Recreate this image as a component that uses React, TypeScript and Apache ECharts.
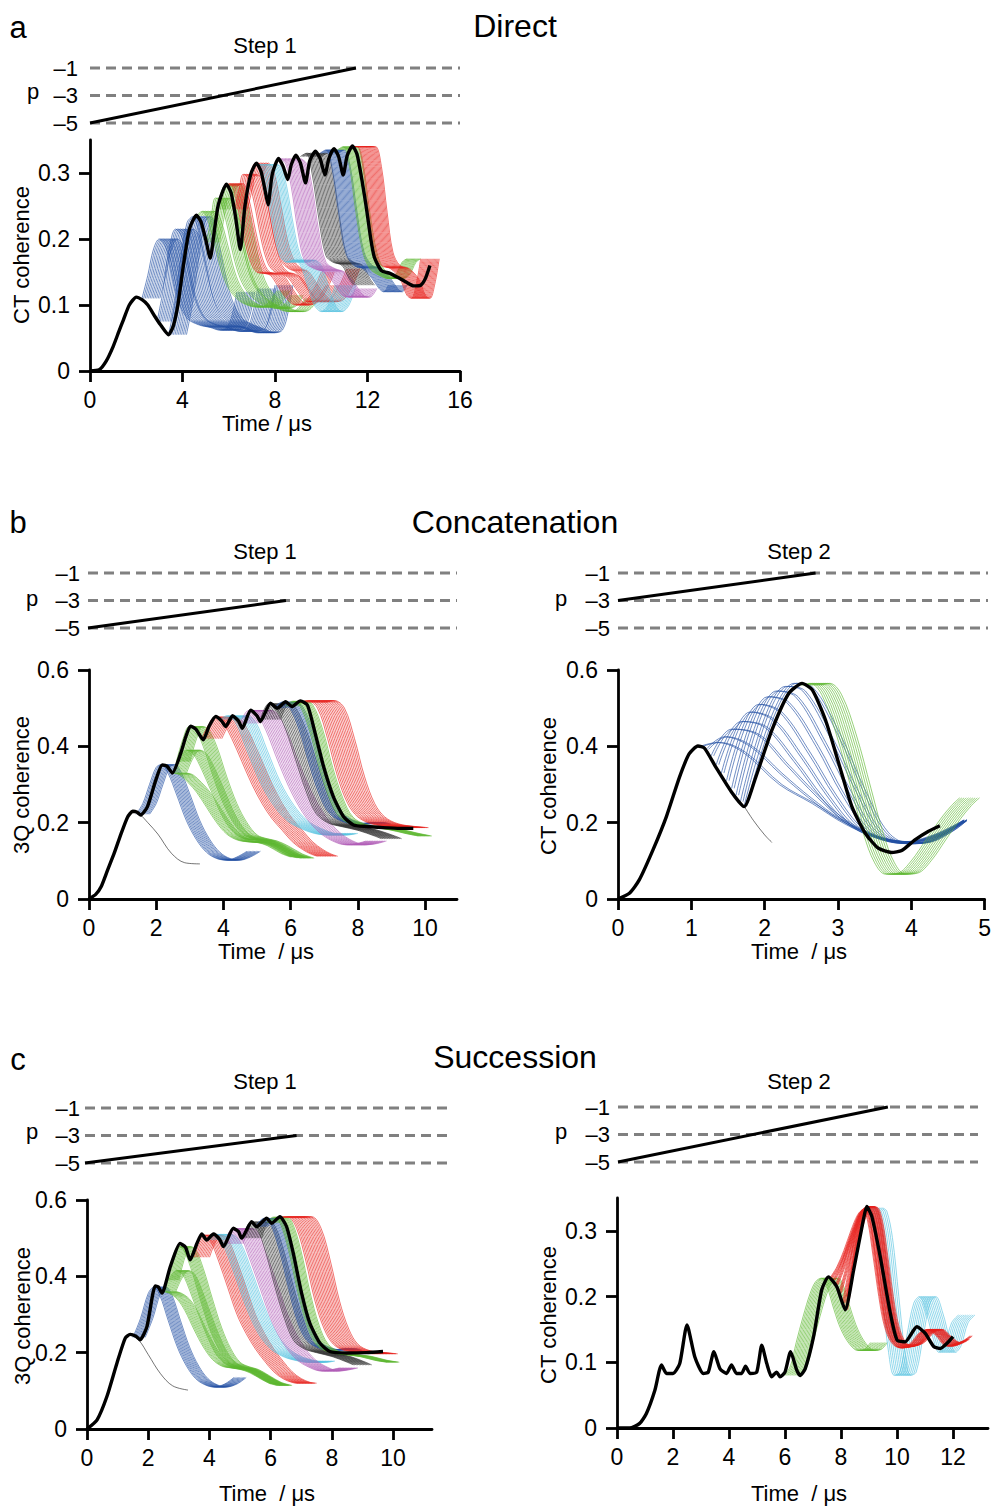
import { useEffect, useRef } from "react";
import * as echarts from "echarts";

type Pt = [number, number];
type Fan = { color: string; bases: Pt[][]; shifts: number[] };

const FONT = '"Liberation Sans", Arial, Helvetica, sans-serif';
const BLUE = "#2451a4";
const GREEN = "#5fb832";
const RED = "#e8231f";
const CYAN = "#56c2e0";
const MAGENTA = "#b25fb8";
const DARK = "#2a2a2a";

// coherence levels of the step panels
const P_LEVELS = [-1, -3, -5];

// tick values
const X_TICKS_A = [0, 4, 8, 12, 16];
const X_TICKS_10 = [0, 2, 4, 6, 8, 10];
const X_TICKS_5 = [0, 1, 2, 3, 4, 5];
const X_TICKS_12 = [0, 2, 4, 6, 8, 10, 12];
const Y_TICKS_CT = [0, 0.1, 0.2, 0.3];
const Y_TICKS_3Q = [0, 0.2, 0.4, 0.6];

// time offsets of the curves inside one fan (read from the hatch widths)
const SH_ONE = [0];
const SH_PAIR = [0, 0.035];
const SH_QUAD = [0, 0.03, 0.06, 0.09];
const SH_03 = [0, 0.03, 0.06, 0.09, 0.12, 0.15, 0.18, 0.21, 0.24, 0.27];
const SH_C10 = [0, 0.065, 0.13, 0.195, 0.26, 0.325, 0.39, 0.455, 0.52, 0.585];
const SH_A8 = [0, 0.07, 0.14, 0.21, 0.28, 0.35, 0.42, 0.49, 0.56];
const SH_A12 = [0, 0.07, 0.14, 0.21, 0.28, 0.35, 0.42, 0.49, 0.56, 0.63, 0.7, 0.77];
const SH_04 = [0, 0.04, 0.08, 0.12, 0.16, 0.2, 0.24, 0.28, 0.32, 0.36, 0.4];
const SH_06 = [0, 0.05, 0.1, 0.15, 0.2, 0.25, 0.3, 0.35, 0.4, 0.45, 0.5, 0.55, 0.6];
const SH_08 = [0, 0.05, 0.1, 0.15, 0.2, 0.25, 0.3, 0.35, 0.4, 0.45, 0.5, 0.55, 0.6, 0.65, 0.7, 0.75, 0.8];
const SH_09 = [0, 0.06, 0.12, 0.18, 0.24, 0.3, 0.36, 0.42, 0.48, 0.54, 0.6, 0.66, 0.72, 0.78, 0.84, 0.9];

// ramps in the step panels [time, p]
const RAMP_A: Pt[] = [[0, -5], [11.5, -1]];
const RAMP_B1: Pt[] = [[0, -5], [5.9, -3]];
const RAMP_B2: Pt[] = [[0, -3], [2.67, -1]];
const RAMP_C1: Pt[] = [[0, -5], [6.9, -3]];
const RAMP_C2: Pt[] = [[0, -5], [9.64, -1]];

// ---------- panel a : Direct ----------
const A_BLACK: Pt[] = [[0, 0], [0.4, 0.002], [0.7, 0.015], [1.0, 0.037], [1.25, 0.06], [1.45, 0.078], [1.7, 0.1], [2.0, 0.112], [2.25, 0.108], [2.5, 0.1], [2.8, 0.083], [3.05, 0.07], [3.4, 0.055], [3.6, 0.068], [3.8, 0.1], [4.03, 0.158], [4.3, 0.215], [4.6, 0.236], [4.8, 0.226], [5.0, 0.2], [5.2, 0.171], [5.35, 0.205], [5.55, 0.252], [5.9, 0.283], [6.1, 0.27], [6.3, 0.232], [6.5, 0.184], [6.7, 0.25], [6.95, 0.298], [7.2, 0.315], [7.4, 0.302], [7.58, 0.272], [7.7, 0.252], [7.88, 0.298], [8.15, 0.322], [8.35, 0.31], [8.55, 0.29], [8.7, 0.312], [8.9, 0.327], [9.1, 0.315], [9.32, 0.285], [9.5, 0.318], [9.75, 0.333], [9.95, 0.322], [10.16, 0.297], [10.33, 0.322], [10.55, 0.337], [10.75, 0.325], [10.95, 0.297], [11.12, 0.326], [11.35, 0.341], [11.55, 0.328], [11.78, 0.285], [11.96, 0.245], [12.15, 0.198], [12.3, 0.172], [12.6, 0.152], [12.97, 0.148], [13.3, 0.142], [13.7, 0.134], [14.0, 0.129], [14.3, 0.13], [14.5, 0.14], [14.7, 0.16]];
const A_BLUE_EARLY: Pt[] = [[2.25, 0.11], [2.5, 0.145], [2.75, 0.185], [3.0, 0.2], [3.25, 0.19], [3.5, 0.155], [3.8, 0.11], [4.2, 0.08], [4.7, 0.07], [5.2, 0.066], [5.6, 0.062], [5.9, 0.065], [6.15, 0.085], [6.35, 0.12]];
const A_BLUE_MID: Pt[] = [[2.9, 0.075], [3.15, 0.12], [3.4, 0.18], [3.7, 0.215], [3.95, 0.205], [4.25, 0.16], [4.55, 0.11], [4.95, 0.08], [5.45, 0.07], [5.95, 0.066], [6.45, 0.06], [6.8, 0.065], [7.05, 0.09], [7.25, 0.125]];
const A_BLUE_LATE: Pt[] = [[3.4, 0.055], [3.65, 0.1], [3.95, 0.175], [4.2, 0.225], [4.45, 0.234], [4.7, 0.21], [5.0, 0.16], [5.35, 0.11], [5.8, 0.08], [6.3, 0.07], [6.8, 0.063], [7.2, 0.058], [7.55, 0.062], [7.8, 0.09], [8.0, 0.13]];
const A_GREEN_EARLY: Pt[] = [[4.6, 0.235], [4.85, 0.242], [5.1, 0.228], [5.4, 0.19], [5.7, 0.15], [6.0, 0.125], [6.4, 0.108], [6.8, 0.1], [7.2, 0.097], [7.6, 0.1], [7.9, 0.112], [8.1, 0.122]];
const A_GREEN_MID: Pt[] = [[5.05, 0.195], [5.25, 0.235], [5.42, 0.262], [5.62, 0.258], [5.9, 0.225], [6.2, 0.175], [6.5, 0.14], [6.85, 0.118], [7.25, 0.105], [7.65, 0.098], [8.05, 0.095], [8.4, 0.1], [8.65, 0.115]];
const A_GREEN_LATE: Pt[] = [[5.5, 0.245], [5.75, 0.278], [5.95, 0.283], [6.2, 0.262], [6.5, 0.21], [6.8, 0.16], [7.1, 0.13], [7.5, 0.112], [7.9, 0.1], [8.3, 0.092], [8.7, 0.09], [9.0, 0.095], [9.3, 0.11]];
const A_RED_EARLY: Pt[] = [[5.8, 0.28], [6.05, 0.284], [6.3, 0.262], [6.6, 0.212], [6.9, 0.17], [7.2, 0.15], [7.5, 0.148], [7.8, 0.145], [8.1, 0.13], [8.5, 0.11], [8.9, 0.1], [9.3, 0.105], [9.7, 0.125], [10.0, 0.15]];
const A_RED_MID: Pt[] = [[6.25, 0.245], [6.45, 0.275], [6.62, 0.298], [6.82, 0.293], [7.1, 0.255], [7.4, 0.2], [7.7, 0.163], [8.0, 0.15], [8.3, 0.147], [8.6, 0.14], [9.0, 0.12], [9.4, 0.105], [9.8, 0.108], [10.2, 0.13]];
const A_RED_LATE: Pt[] = [[6.9, 0.295], [7.15, 0.315], [7.4, 0.3], [7.7, 0.25], [8.0, 0.195], [8.3, 0.165], [8.6, 0.155], [8.9, 0.15], [9.2, 0.135], [9.6, 0.115], [10.0, 0.105], [10.4, 0.108], [10.8, 0.13], [11.1, 0.155]];
const A_CYAN: Pt[] = [[7.15, 0.313], [7.35, 0.31], [7.6, 0.28], [7.9, 0.22], [8.2, 0.175], [8.5, 0.165], [8.8, 0.168], [9.1, 0.16], [9.4, 0.13], [9.7, 0.1], [10.0, 0.09], [10.3, 0.1], [10.6, 0.13]];
const A_MAGENTA: Pt[] = [[8.2, 0.322], [8.45, 0.315], [8.7, 0.28], [9.0, 0.21], [9.3, 0.165], [9.7, 0.155], [10.1, 0.15], [10.5, 0.135], [10.9, 0.115], [11.2, 0.112], [11.5, 0.125]];
const A_DARK: Pt[] = [[9.1, 0.325], [9.35, 0.33], [9.6, 0.3], [9.9, 0.23], [10.2, 0.175], [10.5, 0.165], [10.9, 0.16], [11.2, 0.14], [11.4, 0.13]];
const A_BLUE2: Pt[] = [[9.95, 0.33], [10.2, 0.335], [10.45, 0.31], [10.75, 0.24], [11.05, 0.18], [11.4, 0.16], [11.8, 0.155], [12.2, 0.14], [12.5, 0.125], [12.7, 0.12], [12.9, 0.13]];
const A_GREEN2: Pt[] = [[10.7, 0.335], [10.95, 0.34], [11.2, 0.315], [11.5, 0.24], [11.8, 0.18], [12.1, 0.155], [12.5, 0.145], [12.9, 0.14], [13.2, 0.145], [13.5, 0.165], [13.7, 0.17]];
const A_RED2: Pt[] = [[11.3, 0.34], [11.55, 0.34], [11.8, 0.31], [12.05, 0.24], [12.3, 0.18], [12.6, 0.16], [13.0, 0.155], [13.4, 0.14], [13.7, 0.115], [13.9, 0.11], [14.1, 0.13], [14.3, 0.17]];

// ---------- panel b, step 1 : 3Q coherence ----------
const B1_BLACK: Pt[] = [[0, 0], [0.2, 0.012], [0.36, 0.032], [0.55, 0.075], [0.75, 0.12], [0.95, 0.17], [1.15, 0.215], [1.3, 0.23], [1.42, 0.228], [1.54, 0.22], [1.74, 0.242], [1.99, 0.312], [2.18, 0.351], [2.32, 0.348], [2.48, 0.33], [2.73, 0.382], [2.88, 0.425], [3.02, 0.453], [3.18, 0.445], [3.4, 0.417], [3.57, 0.452], [3.77, 0.478], [3.95, 0.466], [4.07, 0.452], [4.27, 0.48], [4.45, 0.466], [4.56, 0.447], [4.81, 0.495], [5.0, 0.48], [5.1, 0.465], [5.4, 0.513], [5.6, 0.5], [5.85, 0.517], [6.04, 0.504], [6.29, 0.519], [6.5, 0.508], [6.73, 0.434], [6.98, 0.347], [7.27, 0.268], [7.57, 0.216], [7.87, 0.194], [8.26, 0.19], [8.75, 0.187], [9.25, 0.185], [9.65, 0.185]];
const B1_THIN: Pt[] = [[1.25, 0.229], [1.5, 0.222], [1.75, 0.2], [2.05, 0.17], [2.45, 0.12], [2.85, 0.095], [3.3, 0.092]];
const B1_BLUE: Pt[] = [[1.4, 0.222], [1.6, 0.25], [1.8, 0.3], [2.0, 0.345], [2.15, 0.352], [2.35, 0.33], [2.6, 0.275], [2.9, 0.205], [3.2, 0.155], [3.5, 0.122], [3.8, 0.106], [4.1, 0.102], [4.4, 0.11], [4.7, 0.125]];
const B1_GREEN_EARLY: Pt[] = [[2.5, 0.33], [2.7, 0.325], [2.95, 0.305], [3.2, 0.28], [3.5, 0.24], [3.8, 0.2], [4.1, 0.17], [4.4, 0.155], [4.7, 0.15], [5.0, 0.148], [5.3, 0.14], [5.7, 0.12], [6.0, 0.11]];
const B1_GREEN_MID: Pt[] = [[2.5, 0.33], [2.7, 0.37], [2.9, 0.39], [3.1, 0.38], [3.35, 0.34], [3.65, 0.28], [3.95, 0.22], [4.25, 0.18], [4.55, 0.16], [4.85, 0.155], [5.15, 0.15], [5.5, 0.135], [5.9, 0.115], [6.2, 0.108]];
const B1_GREEN_LATE: Pt[] = [[2.6, 0.36], [2.8, 0.42], [2.98, 0.452], [3.15, 0.445], [3.4, 0.4], [3.7, 0.32], [4.0, 0.25], [4.3, 0.2], [4.6, 0.168], [4.9, 0.158], [5.2, 0.152], [5.55, 0.138], [5.95, 0.118], [6.3, 0.107]];
const B1_RED: Pt[] = [[3.35, 0.42], [3.55, 0.455], [3.75, 0.477], [3.95, 0.468], [4.25, 0.42], [4.55, 0.36], [4.85, 0.3], [5.15, 0.25], [5.45, 0.21], [5.75, 0.18], [6.05, 0.15], [6.35, 0.13], [6.6, 0.118], [6.8, 0.112]];
const B1_CYAN: Pt[] = [[3.9, 0.47], [4.1, 0.48], [4.35, 0.465], [4.7, 0.39], [5.1, 0.305], [5.5, 0.245], [5.9, 0.205], [6.3, 0.185], [6.7, 0.172], [7.1, 0.168], [7.4, 0.172]];
const B1_MAGENTA: Pt[] = [[4.5, 0.46], [4.75, 0.494], [4.95, 0.49], [5.25, 0.445], [5.65, 0.355], [6.05, 0.275], [6.45, 0.215], [6.85, 0.175], [7.25, 0.152], [7.65, 0.142], [7.95, 0.145], [8.25, 0.152]];
const B1_DARK: Pt[] = [[5.1, 0.47], [5.35, 0.512], [5.55, 0.5], [5.85, 0.445], [6.15, 0.365], [6.45, 0.285], [6.75, 0.225], [7.1, 0.2], [7.5, 0.19], [8.0, 0.18], [8.5, 0.165], [8.7, 0.158]];
const B1_BLUE2: Pt[] = [[5.5, 0.5], [5.75, 0.516], [5.95, 0.505], [6.25, 0.445], [6.55, 0.355], [6.85, 0.275], [7.15, 0.225], [7.55, 0.203], [8.0, 0.197], [8.4, 0.2], [8.6, 0.195]];
const B1_GREEN2: Pt[] = [[5.85, 0.505], [6.05, 0.518], [6.25, 0.51], [6.55, 0.445], [6.85, 0.345], [7.15, 0.265], [7.45, 0.215], [7.85, 0.195], [8.4, 0.188], [8.9, 0.182], [9.4, 0.172], [9.8, 0.165]];
const B1_RED2: Pt[] = [[6.25, 0.515], [6.5, 0.52], [6.8, 0.5], [7.1, 0.42], [7.4, 0.32], [7.7, 0.25], [8.0, 0.215], [8.4, 0.197], [8.9, 0.19], [9.3, 0.187]];

// ---------- panel b, step 2 : CT coherence ----------
const B2_BLACK: Pt[] = [[0, 0], [0.16, 0.016], [0.29, 0.05], [0.48, 0.13], [0.66, 0.216], [0.84, 0.32], [0.97, 0.38], [1.09, 0.401], [1.18, 0.395], [1.33, 0.347], [1.56, 0.277], [1.72, 0.242], [1.88, 0.32], [2.1, 0.443], [2.33, 0.539], [2.51, 0.565], [2.65, 0.548], [2.83, 0.469], [3.01, 0.356], [3.19, 0.242], [3.37, 0.173], [3.55, 0.133], [3.73, 0.122], [3.87, 0.127], [4.05, 0.155], [4.23, 0.177], [4.39, 0.192]];
const B2_THIN: Pt[] = [[1.72, 0.243], [1.85, 0.205], [2.0, 0.168], [2.1, 0.148]];
const B2_BLUE_CURVES: Pt[][] = [
  [[1.12, 0.4], [1.35, 0.41], [1.7, 0.385], [2.2, 0.3], [2.65, 0.25], [3.1, 0.196], [3.55, 0.16], [4.0, 0.15], [4.4, 0.17], [4.72, 0.205]],
  [[1.2, 0.392], [1.45, 0.425], [1.8, 0.4], [2.2, 0.33], [2.6, 0.265], [3.0, 0.21], [3.5, 0.165], [3.95, 0.15], [4.35, 0.17], [4.72, 0.205]],
  [[1.27, 0.375], [1.55, 0.445], [1.9, 0.43], [2.3, 0.35], [2.7, 0.27], [3.05, 0.21], [3.5, 0.165], [3.9, 0.15], [4.3, 0.168], [4.7, 0.205]],
  [[1.34, 0.352], [1.68, 0.465], [2.0, 0.45], [2.4, 0.36], [2.75, 0.27], [3.1, 0.2], [3.5, 0.162], [3.9, 0.148], [4.3, 0.165], [4.7, 0.205]],
  [[1.41, 0.33], [1.8, 0.49], [2.1, 0.47], [2.5, 0.37], [2.85, 0.27], [3.2, 0.19], [3.55, 0.158], [3.95, 0.147], [4.35, 0.165], [4.72, 0.207]],
  [[1.48, 0.31], [1.92, 0.51], [2.2, 0.49], [2.6, 0.38], [2.95, 0.27], [3.3, 0.185], [3.65, 0.152], [4.0, 0.145], [4.4, 0.168], [4.72, 0.207]],
  [[1.55, 0.29], [2.04, 0.53], [2.3, 0.515], [2.7, 0.4], [3.05, 0.275], [3.4, 0.18], [3.7, 0.15], [4.05, 0.145], [4.4, 0.168], [4.72, 0.207]],
  [[1.61, 0.272], [2.16, 0.545], [2.42, 0.53], [2.8, 0.41], [3.15, 0.28], [3.45, 0.185], [3.75, 0.15], [4.1, 0.146], [4.45, 0.17], [4.72, 0.207]],
  [[1.67, 0.255], [2.28, 0.557], [2.52, 0.545], [2.9, 0.42], [3.25, 0.28], [3.55, 0.18], [3.85, 0.148], [4.15, 0.148], [4.5, 0.175], [4.72, 0.205]],
  [[1.72, 0.243], [2.4, 0.565], [2.62, 0.555], [3.0, 0.43], [3.35, 0.28], [3.65, 0.175], [3.95, 0.145], [4.25, 0.15], [4.55, 0.18], [4.72, 0.205]],
];
const B2_GREEN: Pt[] = [[2.5, 0.56], [2.62, 0.565], [2.78, 0.535], [2.98, 0.43], [3.18, 0.29], [3.35, 0.17], [3.5, 0.095], [3.65, 0.065], [3.82, 0.068], [4.0, 0.1], [4.2, 0.155], [4.4, 0.21], [4.55, 0.245], [4.66, 0.265]];

// ---------- panel c, step 1 : 3Q coherence ----------
const C1_BLACK: Pt[] = [[0, 0], [0.33, 0.024], [0.65, 0.085], [0.98, 0.173], [1.25, 0.238], [1.41, 0.248], [1.6, 0.243], [1.74, 0.234], [1.96, 0.269], [2.23, 0.375], [2.33, 0.372], [2.45, 0.356], [2.72, 0.425], [3.04, 0.486], [3.22, 0.476], [3.37, 0.443], [3.59, 0.486], [3.75, 0.511], [3.91, 0.495], [4.13, 0.511], [4.33, 0.497], [4.46, 0.478], [4.78, 0.526], [4.95, 0.517], [5.05, 0.5], [5.38, 0.543], [5.54, 0.53], [5.87, 0.552], [6.03, 0.539], [6.3, 0.556], [6.52, 0.53], [6.74, 0.46], [7.01, 0.356], [7.28, 0.277], [7.61, 0.225], [7.93, 0.203], [8.48, 0.199], [9.13, 0.2], [9.67, 0.203]];
const C1_THIN: Pt[] = [[1.41, 0.248], [1.7, 0.232], [2.0, 0.195], [2.4, 0.145], [2.8, 0.113], [3.3, 0.102]];
const C1_BLUE: Pt[] = [[1.5, 0.24], [1.75, 0.29], [2.0, 0.355], [2.18, 0.372], [2.38, 0.35], [2.65, 0.285], [2.95, 0.215], [3.25, 0.165], [3.55, 0.132], [3.85, 0.116], [4.15, 0.11], [4.5, 0.118], [4.8, 0.135]];
const C1_GREEN_EARLY: Pt[] = [[2.5, 0.36], [2.7, 0.355], [2.95, 0.34], [3.2, 0.31], [3.5, 0.26], [3.8, 0.215], [4.1, 0.182], [4.4, 0.165], [4.7, 0.16], [5.0, 0.156], [5.3, 0.148], [5.7, 0.13], [6.0, 0.118]];
const C1_GREEN_MID: Pt[] = [[2.5, 0.36], [2.7, 0.395], [2.92, 0.415], [3.12, 0.405], [3.37, 0.36], [3.67, 0.295], [3.97, 0.235], [4.27, 0.19], [4.57, 0.168], [4.87, 0.16], [5.17, 0.155], [5.52, 0.14], [5.9, 0.122], [6.2, 0.114]];
const C1_GREEN_LATE: Pt[] = [[2.6, 0.39], [2.8, 0.45], [2.98, 0.478], [3.15, 0.47], [3.4, 0.42], [3.7, 0.34], [4.0, 0.265], [4.3, 0.21], [4.6, 0.175], [4.9, 0.163], [5.2, 0.156], [5.55, 0.14], [5.95, 0.122], [6.3, 0.114]];
const C1_RED: Pt[] = [[3.4, 0.45], [3.6, 0.49], [3.8, 0.508], [4.0, 0.498], [4.3, 0.44], [4.6, 0.37], [4.9, 0.3], [5.2, 0.25], [5.5, 0.21], [5.8, 0.178], [6.1, 0.15], [6.4, 0.132], [6.7, 0.122], [6.9, 0.12]];
const C1_CYAN: Pt[] = [[3.9, 0.495], [4.1, 0.51], [4.4, 0.49], [4.8, 0.41], [5.2, 0.32], [5.6, 0.25], [6.0, 0.21], [6.4, 0.19], [6.8, 0.18], [7.2, 0.175], [7.5, 0.178]];
const C1_MAGENTA: Pt[] = [[4.5, 0.485], [4.75, 0.525], [4.95, 0.52], [5.25, 0.46], [5.65, 0.37], [6.05, 0.28], [6.45, 0.22], [6.85, 0.182], [7.25, 0.162], [7.65, 0.152], [7.95, 0.155], [8.25, 0.16]];
const C1_DARK: Pt[] = [[5.1, 0.5], [5.35, 0.543], [5.55, 0.53], [5.85, 0.46], [6.15, 0.37], [6.45, 0.29], [6.75, 0.232], [7.1, 0.21], [7.5, 0.2], [8.0, 0.19], [8.5, 0.175], [8.7, 0.168]];
const C1_BLUE2: Pt[] = [[5.5, 0.53], [5.78, 0.552], [5.98, 0.54], [6.28, 0.47], [6.58, 0.37], [6.88, 0.28], [7.18, 0.232], [7.58, 0.212], [8.0, 0.207], [8.4, 0.21], [8.6, 0.205]];
const C1_GREEN2: Pt[] = [[5.88, 0.54], [6.08, 0.555], [6.28, 0.545], [6.58, 0.47], [6.88, 0.36], [7.18, 0.272], [7.48, 0.222], [7.88, 0.202], [8.4, 0.195], [8.9, 0.19], [9.4, 0.18], [9.8, 0.175]];
const C1_RED2: Pt[] = [[6.28, 0.555], [6.55, 0.556], [6.85, 0.525], [7.15, 0.44], [7.45, 0.335], [7.75, 0.262], [8.05, 0.222], [8.45, 0.205], [8.95, 0.2], [9.35, 0.197]];

// ---------- panel c, step 2 : CT coherence ----------
const C2_BLACK: Pt[] = [[0, 0], [0.45, 0], [0.81, 0.007], [1.05, 0.022], [1.35, 0.057], [1.59, 0.096], [1.77, 0.083], [2.0, 0.083], [2.24, 0.098], [2.5, 0.157], [2.78, 0.108], [3.08, 0.083], [3.26, 0.085], [3.46, 0.116], [3.68, 0.09], [3.91, 0.083], [4.09, 0.096], [4.27, 0.083], [4.45, 0.083], [4.59, 0.094], [4.75, 0.083], [4.99, 0.085], [5.17, 0.126], [5.35, 0.098], [5.52, 0.078], [5.7, 0.085], [5.82, 0.078], [6.0, 0.085], [6.2, 0.116], [6.42, 0.088], [6.54, 0.08], [6.72, 0.09], [7.02, 0.139], [7.31, 0.21], [7.55, 0.23], [7.85, 0.215], [8.15, 0.18], [8.45, 0.24], [8.8, 0.317], [8.92, 0.337], [9.1, 0.322], [9.4, 0.261], [9.76, 0.175], [10.0, 0.134], [10.29, 0.131], [10.71, 0.154], [11.01, 0.144], [11.31, 0.124], [11.55, 0.121], [11.79, 0.129], [12.0, 0.139]];
const C2_GREEN: Pt[] = [[6.0, 0.08], [6.2, 0.095], [6.4, 0.13], [6.65, 0.17], [6.9, 0.205], [7.1, 0.223], [7.3, 0.228], [7.5, 0.215], [7.75, 0.18], [8.0, 0.15], [8.3, 0.128], [8.6, 0.118], [8.85, 0.12], [9.05, 0.13]];
const C2_RED_CURVES: Pt[][] = [
  [[7.6, 0.228], [7.85, 0.245], [8.1, 0.27], [8.35, 0.3], [8.6, 0.325], [8.78, 0.332], [8.95, 0.315], [9.15, 0.26], [9.35, 0.2], [9.55, 0.155], [9.8, 0.13], [10.1, 0.122], [10.45, 0.128], [10.8, 0.145], [11.1, 0.15], [11.4, 0.14], [11.75, 0.125], [12.0, 0.125]],
  [[7.7, 0.225], [7.95, 0.245], [8.2, 0.275], [8.45, 0.305], [8.67, 0.328], [8.85, 0.334], [9.02, 0.318], [9.22, 0.262], [9.42, 0.2], [9.62, 0.155], [9.87, 0.13], [10.17, 0.122], [10.52, 0.128], [10.87, 0.145], [11.17, 0.15], [11.47, 0.14], [11.82, 0.125], [12.1, 0.126]],
  [[7.8, 0.218], [8.05, 0.245], [8.3, 0.28], [8.55, 0.312], [8.75, 0.332], [8.92, 0.336], [9.1, 0.32], [9.3, 0.264], [9.5, 0.2], [9.7, 0.155], [9.95, 0.13], [10.25, 0.123], [10.6, 0.128], [10.95, 0.145], [11.25, 0.15], [11.55, 0.14], [11.9, 0.126], [12.2, 0.128]],
  [[7.92, 0.205], [8.15, 0.24], [8.4, 0.285], [8.62, 0.318], [8.82, 0.334], [8.98, 0.337], [9.17, 0.32], [9.37, 0.264], [9.57, 0.2], [9.77, 0.155], [10.02, 0.13], [10.32, 0.123], [10.67, 0.128], [11.02, 0.145], [11.32, 0.15], [11.62, 0.14], [11.97, 0.127], [12.3, 0.13]],
  [[8.05, 0.19], [8.25, 0.235], [8.48, 0.29], [8.7, 0.322], [8.88, 0.335], [9.05, 0.337], [9.24, 0.32], [9.44, 0.264], [9.64, 0.2], [9.84, 0.155], [10.09, 0.13], [10.39, 0.124], [10.74, 0.128], [11.09, 0.145], [11.39, 0.15], [11.69, 0.14], [12.04, 0.128], [12.4, 0.132]],
  [[8.15, 0.18], [8.35, 0.235], [8.55, 0.29], [8.77, 0.324], [8.95, 0.336], [9.12, 0.337], [9.31, 0.32], [9.51, 0.264], [9.71, 0.2], [9.91, 0.155], [10.16, 0.13], [10.46, 0.125], [10.81, 0.13], [11.16, 0.145], [11.46, 0.15], [11.76, 0.14], [12.11, 0.129], [12.5, 0.135]],
  [[8.2, 0.2], [8.42, 0.25], [8.62, 0.295], [8.84, 0.325], [9.02, 0.336], [9.19, 0.336], [9.38, 0.318], [9.58, 0.262], [9.78, 0.2], [9.98, 0.155], [10.23, 0.13], [10.53, 0.125], [10.88, 0.13], [11.23, 0.145], [11.53, 0.15], [11.83, 0.14], [12.18, 0.13], [12.6, 0.14]],
];
const C2_CYAN: Pt[] = [[8.9, 0.335], [9.05, 0.33], [9.25, 0.29], [9.48, 0.2], [9.7, 0.115], [9.9, 0.08], [10.1, 0.085], [10.35, 0.14], [10.6, 0.19], [10.8, 0.2], [11.05, 0.175], [11.3, 0.135], [11.5, 0.115], [11.7, 0.125], [11.95, 0.16], [12.2, 0.172]];

const fan = (color: string, base: Pt[], shifts: number[]): Fan => ({ color, bases: [base], shifts });

interface PanelDef {
  step: { left: number; top: number; width: number; xMax: number; ramp: Pt[]; labelMargin: number };
  main: { left: number; top: number; width: number; height: number; xMax: number; xTicks: number[]; yMax: number; yTicks: number[] };
  black: Pt[];
  fans: Fan[];
}

const PANELS: PanelDef[] = [
  {
    step: { left: 90, top: 68, width: 370, xMax: 16, ramp: RAMP_A, labelMargin: 12 },
    main: { left: 90, top: 140, width: 370, height: 231, xMax: 16, xTicks: X_TICKS_A, yMax: 0.35, yTicks: Y_TICKS_CT },
    black: A_BLACK,
    fans: [
      { color: BLUE, bases: [A_BLUE_EARLY, A_BLUE_MID, A_BLUE_LATE], shifts: SH_A12 },
      { color: GREEN, bases: [A_GREEN_EARLY, A_GREEN_MID, A_GREEN_LATE], shifts: SH_A8 },
      { color: RED, bases: [A_RED_EARLY, A_RED_MID, A_RED_LATE], shifts: SH_A8 },
      fan(CYAN, A_CYAN, SH_09), fan(MAGENTA, A_MAGENTA, SH_09), fan(DARK, A_DARK, SH_09),
      fan(BLUE, A_BLUE2, SH_08), fan(GREEN, A_GREEN2, SH_06), fan(RED, A_RED2, SH_08),
    ],
  },
  {
    step: { left: 88, top: 573, width: 369, xMax: 11, ramp: RAMP_B1, labelMargin: 8 },
    main: { left: 89, top: 670, width: 368, height: 229, xMax: 10.95, xTicks: X_TICKS_10, yMax: 0.6, yTicks: Y_TICKS_3Q },
    black: B1_BLACK,
    fans: [
      fan(DARK, B1_THIN, SH_ONE), fan(BLUE, B1_BLUE, SH_04),
      { color: GREEN, bases: [B1_GREEN_EARLY, B1_GREEN_MID, B1_GREEN_LATE], shifts: SH_04 },
      fan(RED, B1_RED, SH_06), fan(CYAN, B1_CYAN, SH_06), fan(MAGENTA, B1_MAGENTA, SH_06),
      fan(DARK, B1_DARK, SH_06), fan(BLUE, B1_BLUE2, SH_04), fan(GREEN, B1_GREEN2, SH_04),
      fan(RED, B1_RED2, SH_08),
    ],
  },
  {
    step: { left: 618, top: 573, width: 370, xMax: 5, ramp: RAMP_B2, labelMargin: 8 },
    main: { left: 618, top: 670, width: 369, height: 229, xMax: 5, xTicks: X_TICKS_5, yMax: 0.6, yTicks: Y_TICKS_3Q },
    black: B2_BLACK,
    fans: [
      fan(DARK, B2_THIN, SH_ONE),
      { color: BLUE, bases: B2_BLUE_CURVES, shifts: SH_PAIR },
      fan(GREEN, B2_GREEN, SH_03),
    ],
  },
  {
    step: { left: 85, top: 1108, width: 368, xMax: 12, ramp: RAMP_C1, labelMargin: 5 },
    main: { left: 87, top: 1200, width: 345, height: 229, xMax: 11.27, xTicks: X_TICKS_10, yMax: 0.6, yTicks: Y_TICKS_3Q },
    black: C1_BLACK,
    fans: [
      fan(DARK, C1_THIN, SH_ONE), fan(BLUE, C1_BLUE, SH_04),
      { color: GREEN, bases: [C1_GREEN_EARLY, C1_GREEN_MID, C1_GREEN_LATE], shifts: SH_04 },
      fan(RED, C1_RED, SH_06), fan(CYAN, C1_CYAN, SH_06), fan(MAGENTA, C1_MAGENTA, SH_06),
      fan(DARK, C1_DARK, SH_06), fan(BLUE, C1_BLUE2, SH_04), fan(GREEN, C1_GREEN2, SH_04),
      fan(RED, C1_RED2, SH_08),
    ],
  },
  {
    step: { left: 618, top: 1107, width: 360, xMax: 12.86, ramp: RAMP_C2, labelMargin: 8 },
    main: { left: 617, top: 1198, width: 371, height: 230, xMax: 13.25, xTicks: X_TICKS_12, yMax: 0.35, yTicks: Y_TICKS_CT },
    black: C2_BLACK,
    fans: [
      fan(GREEN, C2_GREEN, SH_06),
      fan(CYAN, C2_CYAN, SH_C10),
      { color: RED, bases: C2_RED_CURVES, shifts: SH_QUAD },
    ],
  },
];

type TextDef = { t: string; x: number; y: number; size?: number; rot?: boolean };
const TEXTS: TextDef[] = [
  { t: "a", x: 18, y: 27, size: 31 },
  { t: "Direct", x: 515, y: 26, size: 32 },
  { t: "Step 1", x: 265, y: 45 },
  { t: "p", x: 33, y: 91 },
  { t: "Time / μs", x: 267, y: 423 },
  { t: "CT coherence", x: 21, y: 255, rot: true },
  { t: "b", x: 18, y: 522, size: 31 },
  { t: "Concatenation", x: 515, y: 522, size: 32 },
  { t: "Step 1", x: 265, y: 551 },
  { t: "Step 2", x: 799, y: 551 },
  { t: "p", x: 32, y: 598 },
  { t: "p", x: 561, y: 598 },
  { t: "Time  / μs", x: 266, y: 951 },
  { t: "Time  / μs", x: 799, y: 951 },
  { t: "3Q coherence", x: 21, y: 785, rot: true },
  { t: "CT coherence", x: 548, y: 786, rot: true },
  { t: "c", x: 18, y: 1059, size: 31 },
  { t: "Succession", x: 515, y: 1057, size: 32 },
  { t: "Step 1", x: 265, y: 1081 },
  { t: "Step 2", x: 799, y: 1081 },
  { t: "p", x: 32, y: 1131 },
  { t: "p", x: 561, y: 1131 },
  { t: "Time  / μs", x: 267, y: 1493 },
  { t: "Time  / μs", x: 799, y: 1493 },
  { t: "3Q coherence", x: 22, y: 1316, rot: true },
  { t: "CT coherence", x: 548, y: 1315, rot: true },
];

function buildOption() {
  const grid: any[] = [];
  const xAxis: any[] = [];
  const yAxis: any[] = [];
  const series: any[] = [];
  const axisLine = { show: true, onZero: false, lineStyle: { color: "#000", width: 2.8 } };
  const labelBase = { color: "#000", fontFamily: FONT, fontSize: 23 };

  PANELS.forEach((p, i) => {
    const sg = 2 * i;
    const mg = 2 * i + 1;
    // step panel
    grid.push({ left: p.step.left, top: p.step.top, width: p.step.width, height: 55 });
    xAxis.push({ type: "value", gridIndex: sg, min: 0, max: p.step.xMax, show: false });
    yAxis.push({
      type: "value", gridIndex: sg, min: -5, max: -1,
      axisLine: { show: false }, axisTick: { show: false }, splitLine: { show: false },
      axisLabel: { ...labelBase, fontSize: 22, margin: p.step.labelMargin, customValues: P_LEVELS, formatter: (v: number) => "–" + Math.abs(v) },
    });
    P_LEVELS.forEach((lvl) => {
      series.push({
        type: "line", xAxisIndex: sg, yAxisIndex: sg, silent: true, symbol: "none", clip: false,
        data: [[0, lvl], [p.step.xMax, lvl]],
        lineStyle: { color: "#808080", width: 3, type: [10, 6] }, z: 2,
      });
    });
    series.push({
      type: "line", xAxisIndex: sg, yAxisIndex: sg, silent: true, symbol: "none", clip: false,
      data: p.step.ramp, lineStyle: { color: "#000", width: 3 }, z: 5,
    });

    // main panel
    grid.push({ left: p.main.left, top: p.main.top, width: p.main.width, height: p.main.height });
    xAxis.push({
      type: "value", gridIndex: mg, min: 0, max: p.main.xMax,
      axisLine,
      axisTick: { show: true, length: 11, lineStyle: { color: "#000", width: 2.8 }, customValues: p.main.xTicks },
      axisLabel: { ...labelBase, margin: 17, customValues: p.main.xTicks, formatter: (v: number) => String(v) },
      splitLine: { show: false },
    });
    yAxis.push({
      type: "value", gridIndex: mg, min: 0, max: p.main.yMax,
      axisLine,
      axisTick: { show: true, length: 11, lineStyle: { color: "#000", width: 2.8 }, customValues: p.main.yTicks },
      axisLabel: { ...labelBase, margin: 20, customValues: p.main.yTicks, formatter: (v: number) => String(v) },
      splitLine: { show: false },
    });
    p.fans.forEach((f) => {
      f.bases.forEach((base) => {
        f.shifts.forEach((s) => {
          series.push({
            type: "line", xAxisIndex: mg, yAxisIndex: mg, silent: true, symbol: "none",
            smooth: 0.35,
            data: base.map(([t, y]) => [t + s, y]),
            lineStyle: { color: f.color, width: 0.65 }, z: 3,
          });
        });
      });
    });
    series.push({
      type: "line", xAxisIndex: mg, yAxisIndex: mg, silent: true, symbol: "none",
      smooth: 0.2, data: p.black,
      lineStyle: { color: "#000", width: 3.4 }, z: 10,
    });
  });

  const graphic = TEXTS.map((d) => ({
    type: "text",
    x: d.x,
    y: d.y,
    rotation: d.rot ? Math.PI / 2 : 0,
    silent: true,
    style: {
      text: d.t,
      fill: "#000",
      font: `${d.size ?? 22}px ${FONT}`,
      fontSize: d.size ?? 22,
      fontFamily: FONT,
      align: "center",
      verticalAlign: "middle",
      textAlign: "center",
      textVerticalAlign: "middle",
    },
  }));

  return { animation: false, backgroundColor: "#fff", grid, xAxis, yAxis, series, graphic };
}

export default function App() {
  const ref = useRef<HTMLDivElement>(null);
  useEffect(() => {
    if (!ref.current) return;
    const chart = echarts.init(ref.current, undefined, { renderer: "svg" });
    chart.setOption(buildOption() as any);
    return () => chart.dispose();
  }, []);
  return <div ref={ref} style={{ position: "absolute", left: 0, top: 0, width: 994, height: 1506 }} />;
}
